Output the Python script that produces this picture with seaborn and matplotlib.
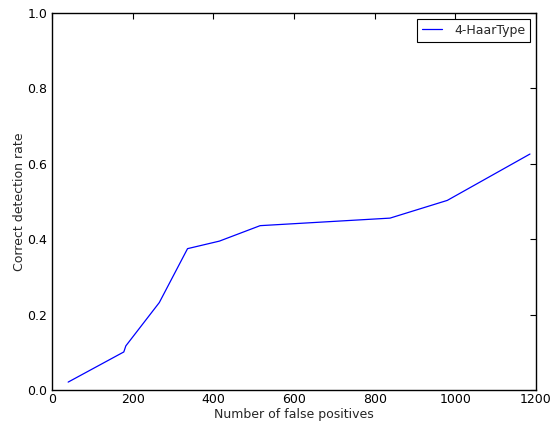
import matplotlib
matplotlib.use("Agg")
import matplotlib.pyplot as plt
import seaborn as sns
import pandas as pd

false_positives = [40, 178, 183, 266, 336, 415, 516, 838, 980, 1185]
detection_rate = [0.021, 0.101, 0.117, 0.232, 0.375, 0.395, 0.436, 0.456, 0.503, 0.626]
series_name = "4-HaarType"

sns.set_style("white")
plt.rcParams.update({
    "font.family": ["DejaVu Sans"],
    "xtick.direction": "in",
    "ytick.direction": "in",
    "xtick.top": True,
    "ytick.right": True,
    "xtick.major.size": 4,
    "ytick.major.size": 4,
    "axes.edgecolor": "black",
    "axes.linewidth": 1.0,
})

df = pd.DataFrame({"fp": false_positives, "rate": detection_rate, "series": series_name})

fig = plt.figure(figsize=(5.51, 4.21), dpi=100)
ax = fig.add_axes([0.0944, 0.0736, 0.8784, 0.8954])
sns.lineplot(data=df, x="fp", y="rate", hue="series", palette=["#0000ff"],
             sort=False, estimator=None, ax=ax, linewidth=0.9)

ax.set_xlim(0, 1200)
ax.set_ylim(0, 1.0)
ax.set_xticks([0, 200, 400, 600, 800, 1000, 1200])
ax.set_yticks([0.0, 0.2, 0.4, 0.6, 0.8, 1.0])
ax.set_yticklabels(["0.0", "0.2", "0.4", "0.6", "0.8", "1.0"])
ax.tick_params(labelsize=9, colors="black", width=0.8)
ax.tick_params(axis="x", pad=2.5)
ax.set_xlabel("Number of false positives", fontsize=9, labelpad=1)
ax.set_ylabel("Correct detection rate", fontsize=9, labelpad=1)
for s in ax.spines.values():
    s.set_visible(True)
    s.set_color("black")

leg = ax.legend(loc="upper right", fancybox=False, framealpha=1, edgecolor="black",
                fontsize=9, handlelength=1.6, handletextpad=1.0, borderpad=0.4,
                borderaxespad=0.45)
leg.get_frame().set_linewidth(0.8)

fig.savefig("out.png", dpi=100)
